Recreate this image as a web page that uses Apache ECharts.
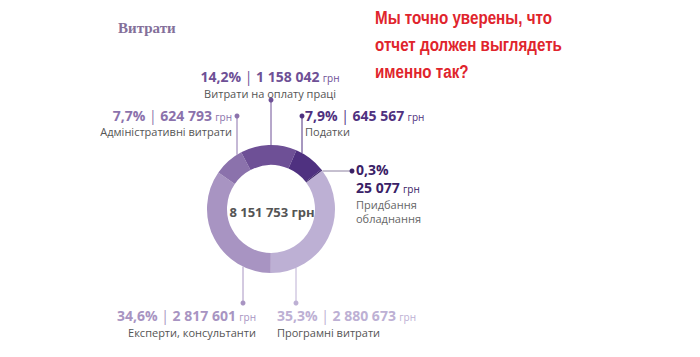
<!DOCTYPE html>
<html><head><meta charset="utf-8">
<script src="https://cdn.jsdelivr.net/npm/echarts@6/dist/echarts.min.js"></script>
<style>html,body{margin:0;padding:0;background:#fff}#c{width:700px;height:357px}</style>
</head><body><div id="c"></div>
<script>
// ---- data ----
var categories = ['Програмні витрати', 'Експерти, консультанти', 'Адміністративні витрати', 'Витрати на оплату праці', 'Податки', 'Придбання обладнання'];
var values = [2880673, 2817601, 624793, 1158042, 645567, 25077];
var title = 'Витрати';
var note = ['Мы точно уверены, что', 'отчет должен выглядеть', 'именно так?'];
var currency = 'грн';

// ---- styles ----
var colors = ['#bdb0d4', '#a894c2', '#8b72ac', '#6e5096', '#4f3180', '#3a2166'];
var CX = 271, CY = 209, R0 = 44, R1 = 64;
var FONT = '"Open Sans", "Noto Sans", sans-serif';

function fmt(v){ return String(v).replace(/\B(?=(\d{3})+(?!\d))/g, ' '); }
var total = values.reduce(function(a,b){return a+b;},0);
function pct(v){ return (v/total*100).toFixed(1).replace('.', ',') + '%'; }

var layout = [
  {lineX:296, dir:1, dotY:303, tx:277, ty:315, align:'left', catY:332},
  {lineX:243, dir:1, dotY:303, tx:256, ty:315, align:'right', catY:332},
  {lineX:237, dir:-1, dotY:116, tx:232, ty:115, align:'right', catY:131},
  {lineX:271, dir:-1, dotY:100, tx:270, ty:76, align:'center', catY:93},
  {lineX:302, dir:-1, dotY:116, tx:305, ty:115, align:'left', catY:131},
  {horizontal:true, lineY:171, dotX:352, tx:356, ty:169}
];

function richFor(color){
  return {
    v:{fontFamily:FONT, fontSize:14, fontWeight:'bold', fill:color, lineHeight:15},
    s:{fontFamily:FONT, fontSize:14, fontWeight:'normal', fill:color, lineHeight:15},
    u:{fontFamily:FONT, fontSize:10, fontWeight:'normal', fill:color, lineHeight:11, padding:[4,0,0,0]}
  };
}

var graphics = [];
values.forEach(function(v, i){
  var L = layout[i], col = colors[i];
  if (L.horizontal){
    var x0 = CX + Math.sqrt(R1*R1 - (L.lineY-CY)*(L.lineY-CY));
    graphics.push({type:'line', z:1, shape:{x1:x0, y1:L.lineY, x2:L.dotX, y2:L.lineY}, style:{stroke:'#8c80a0', lineWidth:1}});
    graphics.push({type:'circle', z:5, shape:{cx:L.dotX, cy:L.lineY, r:2.5}, style:{fill:col}});
    graphics.push({type:'text', z:5, x:L.tx, y:L.ty, style:{text:'{v|' + pct(v) + '}', rich:richFor(col), verticalAlign:'middle', align:'left'}});
    graphics.push({type:'text', z:5, x:L.tx, y:L.ty+18, style:{text:'{v|' + fmt(v) + '} {u|' + currency + '}', rich:richFor(col), verticalAlign:'middle', align:'left'}});
    var words = categories[i].split(' ');
    graphics.push({type:'text', z:5, x:L.tx, y:L.ty+35, style:{text:words[0], fill:'#666', fontFamily:FONT, fontSize:11, verticalAlign:'middle', align:'left'}});
    graphics.push({type:'text', z:5, x:L.tx, y:L.ty+49, style:{text:words.slice(1).join(' '), fill:'#666', fontFamily:FONT, fontSize:11, verticalAlign:'middle', align:'left'}});
  } else {
    var dy = Math.sqrt(R1*R1 - (L.lineX-CX)*(L.lineX-CX));
    var y0 = CY + L.dir*dy;
    graphics.push({type:'line', z:1, shape:{x1:L.lineX, y1:y0, x2:L.lineX, y2:L.dotY}, style:{stroke:col, lineWidth:1}});
    graphics.push({type:'circle', z:5, shape:{cx:L.lineX, cy:L.dotY, r:2.5}, style:{fill:col}});
    graphics.push({type:'text', z:5, x:L.tx, y:L.ty, style:{text:'{v|' + pct(v) + '}{s| | }{v|' + fmt(v) + '} {u|' + currency + '}', rich:richFor(col), verticalAlign:'middle', align:L.align}});
    graphics.push({type:'text', z:5, x:L.tx, y:L.catY, style:{text:categories[i], fill:'#555', fontFamily:FONT, fontSize:11, verticalAlign:'middle', align:L.align}});
  }
});

// center total
graphics.push({type:'text', z:10, x:CX+1, y:CY+3, style:{text:fmt(total) + ' ' + currency, fill:'#555', fontFamily:FONT, fontSize:13, fontWeight:'bold', align:'center', verticalAlign:'middle'}});
// title
graphics.push({type:'text', z:5, x:118, y:28, style:{text:title, fill:'#84709a', fontFamily:'"Liberation Serif", "DejaVu Serif", serif', fontSize:15, fontWeight:'bold', align:'left', verticalAlign:'middle'}});
// red note, horizontally condensed to the reference width
var noteFamily = '"Liberation Sans", Arial, sans-serif';
var ctx = document.createElement('canvas').getContext('2d');
ctx.font = 'bold 19px ' + noteFamily;
var noteScale = 177 / ctx.measureText(note[0]).width;
note.forEach(function(t, i){
  graphics.push({type:'text', z:5, x:375, y:17 + i*27, scaleX:noteScale, style:{text:t, fill:'#e0242c', fontFamily:noteFamily, fontSize:19, fontWeight:'bold', align:'left', verticalAlign:'middle'}});
});

var chart = echarts.init(document.getElementById('c'), null, {renderer:'svg'});
chart.setOption({
  animation:false,
  series:[{
    type:'pie',
    center:[CX, CY],
    radius:[R0, R1],
    startAngle:37,
    clockwise:true,
    silent:true,
    z:2,
    label:{show:false},
    labelLine:{show:false},
    data: values.map(function(v,i){ return {name:categories[i], value:v, itemStyle:{color:colors[i]}}; })
  }],
  graphic:graphics
});
</script>
</body></html>
